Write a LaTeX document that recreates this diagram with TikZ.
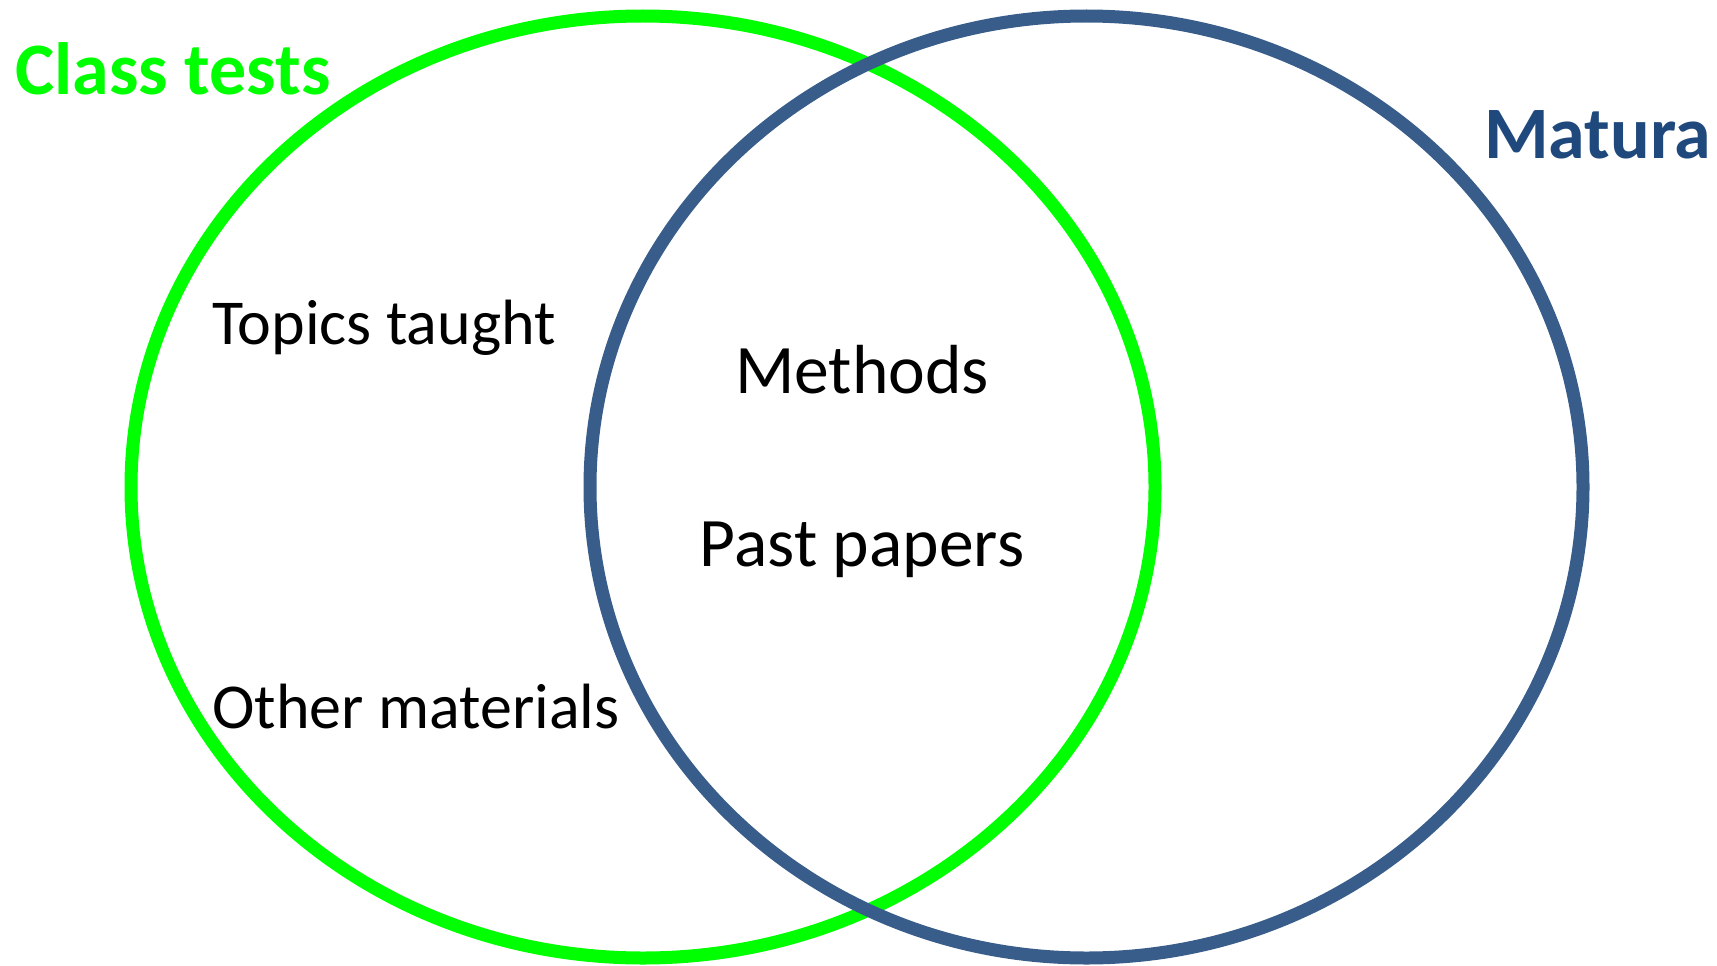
\documentclass[tikz,border=0pt]{standalone}
\usepackage{fontspec}
\setmainfont{Carlito}
\definecolor{vgreen}{HTML}{00FF00}
\definecolor{vblue}{HTML}{385D8A}
\definecolor{mblue}{HTML}{1F497D}
\tikzset{
  ring/.style={line width=13pt},
  lbl/.style={inner sep=0pt, font=\fontsize{64}{64}\selectfont},
  mid/.style={inner sep=0pt, font=\fontsize{69.5}{70}\selectfont},
  title/.style={inner sep=0pt, font=\fontsize{74}{74}\selectfont\bfseries},
}
\begin{document}
\begin{tikzpicture}[x=1pt,y=-1pt]
\useasboundingbox (0,0) rectangle (1717,966);
\draw[ring, vgreen] (643,487) ellipse [x radius=512, y radius=471];
\draw[ring, vblue] (1086.5,487) ellipse [x radius=496.5, y radius=471];
\node[title, text=vgreen, anchor=base west] (ct) at (15,95) {Class tests};
\node[title, text=mblue, anchor=base west] (mt) at (1484,158) {Matura};
\node[lbl, anchor=base west] (tt) at (212,344) {Topics taught};
\node[lbl, anchor=base west] (om) at (212,728) {Other materials};
\node[mid, anchor=base] (me) at (862,393) {Methods};
\node[mid, anchor=base] (pp) at (862,566) {Past papers};
\end{tikzpicture}
\end{document}
